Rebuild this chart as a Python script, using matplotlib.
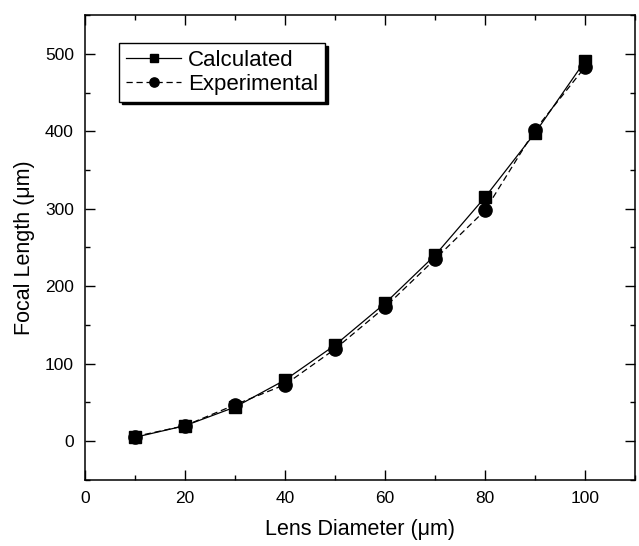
import matplotlib
matplotlib.use("Agg")
import matplotlib.pyplot as plt
from matplotlib.ticker import MultipleLocator

plt.rcParams['font.family'] = ['Liberation Sans', 'DejaVu Sans']

# diameters in um
diameter = [10, 20, 30, 40, 50, 60, 70, 80, 90, 100]
# focal length in um
calculated = [5, 20, 44, 79, 124, 178, 240, 315, 398, 491]
experimental = [6, 20, 47, 73, 119, 173, 235, 298, 402, 483]

fig = plt.figure(figsize=(6.39, 5.46), dpi=100)
ax = fig.add_axes([0.133, 0.121, 0.861, 0.8515])

ax.plot(diameter, calculated, color="black", linewidth=0.9, linestyle="-",
        marker="s", markersize=9, label="Calculated")
ax.plot(diameter, experimental, color="black", linewidth=0.9, linestyle=(0, (5, 3)),
        marker="o", markersize=9.5, label="Experimental")

ax.set_xlim(0, 110)
ax.set_ylim(-50, 550)
ax.xaxis.set_major_locator(MultipleLocator(20))
ax.xaxis.set_minor_locator(MultipleLocator(10))
ax.yaxis.set_major_locator(MultipleLocator(100))
ax.yaxis.set_minor_locator(MultipleLocator(50))
ax.tick_params(which="both", direction="in", top=True, right=True, labelsize=12.5, width=1)
ax.tick_params(which="major", length=7, pad=8)
ax.tick_params(which="minor", length=3.5)
for s in ax.spines.values():
    s.set_linewidth(1.1)

ax.set_xlabel("Lens Diameter (\u03bcm)", fontsize=15.5, labelpad=9)
ax.set_ylabel("Focal Length (\u03bcm)", fontsize=15.5, labelpad=7)

leg = ax.legend(loc="upper left", bbox_to_anchor=(0.062, 0.94), borderaxespad=0,
                fontsize=16, frameon=True, fancybox=False, edgecolor="black",
                shadow={"color": "black", "alpha": 1}, handlelength=2.5, markerscale=0.7,
                handletextpad=0.3, labelspacing=0.15, borderpad=0.3)
leg.get_frame().set_linewidth(1)

fig.savefig("out.png", dpi=100)
